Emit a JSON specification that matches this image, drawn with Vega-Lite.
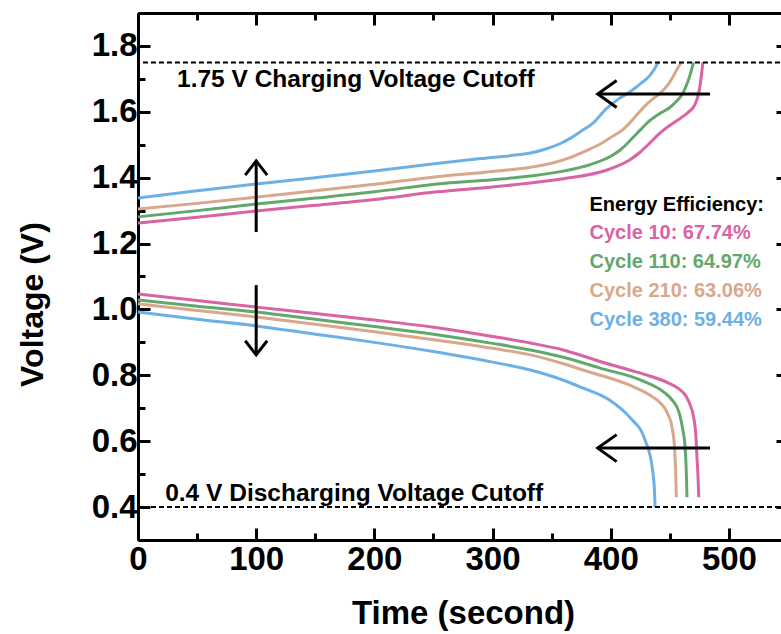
{
  "$schema": "https://vega.github.io/schema/vega-lite/v6.json",
  "autosize": {"type": "none"},
  "padding": {"left": 138, "top": 13, "right": 0, "bottom": 94},
  "width": 650,
  "height": 527,
  "background": "white",
  "config": {"view": {"stroke": null}, "font": "Liberation Sans"},
  "datasets": {
    "curves": [
      {"c":"Cycle 10","k":"charge","t":0,"v":1.262},{"c":"Cycle 10","k":"charge","t":50,"v":1.28},{"c":"Cycle 10","k":"charge","t":100,"v":1.299},{"c":"Cycle 10","k":"charge","t":150,"v":1.316},{"c":"Cycle 10","k":"charge","t":200,"v":1.334},{"c":"Cycle 10","k":"charge","t":253,"v":1.357},{"c":"Cycle 10","k":"charge","t":300,"v":1.372},{"c":"Cycle 10","k":"charge","t":332,"v":1.384},{"c":"Cycle 10","k":"charge","t":360,"v":1.397},{"c":"Cycle 10","k":"charge","t":380,"v":1.408},{"c":"Cycle 10","k":"charge","t":395,"v":1.421},{"c":"Cycle 10","k":"charge","t":405,"v":1.434},{"c":"Cycle 10","k":"charge","t":416,"v":1.454},{"c":"Cycle 10","k":"charge","t":425,"v":1.478},{"c":"Cycle 10","k":"charge","t":433,"v":1.505},{"c":"Cycle 10","k":"charge","t":440,"v":1.53},{"c":"Cycle 10","k":"charge","t":446,"v":1.548},{"c":"Cycle 10","k":"charge","t":453,"v":1.566},{"c":"Cycle 10","k":"charge","t":460,"v":1.583},{"c":"Cycle 10","k":"charge","t":466,"v":1.6},{"c":"Cycle 10","k":"charge","t":471,"v":1.62},{"c":"Cycle 10","k":"charge","t":474,"v":1.65},{"c":"Cycle 10","k":"charge","t":476,"v":1.69},{"c":"Cycle 10","k":"charge","t":478,"v":1.75},
      {"c":"Cycle 110","k":"charge","t":0,"v":1.281},{"c":"Cycle 110","k":"charge","t":50,"v":1.3},{"c":"Cycle 110","k":"charge","t":100,"v":1.32},{"c":"Cycle 110","k":"charge","t":150,"v":1.338},{"c":"Cycle 110","k":"charge","t":200,"v":1.357},{"c":"Cycle 110","k":"charge","t":253,"v":1.381},{"c":"Cycle 110","k":"charge","t":300,"v":1.394},{"c":"Cycle 110","k":"charge","t":332,"v":1.405},{"c":"Cycle 110","k":"charge","t":360,"v":1.42},{"c":"Cycle 110","k":"charge","t":382,"v":1.439},{"c":"Cycle 110","k":"charge","t":400,"v":1.465},{"c":"Cycle 110","k":"charge","t":408,"v":1.484},{"c":"Cycle 110","k":"charge","t":417,"v":1.515},{"c":"Cycle 110","k":"charge","t":425,"v":1.545},{"c":"Cycle 110","k":"charge","t":433,"v":1.573},{"c":"Cycle 110","k":"charge","t":442,"v":1.596},{"c":"Cycle 110","k":"charge","t":450,"v":1.613},{"c":"Cycle 110","k":"charge","t":455,"v":1.63},{"c":"Cycle 110","k":"charge","t":460,"v":1.65},{"c":"Cycle 110","k":"charge","t":464,"v":1.68},{"c":"Cycle 110","k":"charge","t":467,"v":1.71},{"c":"Cycle 110","k":"charge","t":470,"v":1.75},
      {"c":"Cycle 210","k":"charge","t":0,"v":1.305},{"c":"Cycle 210","k":"charge","t":50,"v":1.322},{"c":"Cycle 210","k":"charge","t":100,"v":1.341},{"c":"Cycle 210","k":"charge","t":150,"v":1.36},{"c":"Cycle 210","k":"charge","t":200,"v":1.38},{"c":"Cycle 210","k":"charge","t":253,"v":1.403},{"c":"Cycle 210","k":"charge","t":300,"v":1.419},{"c":"Cycle 210","k":"charge","t":332,"v":1.432},{"c":"Cycle 210","k":"charge","t":350,"v":1.444},{"c":"Cycle 210","k":"charge","t":365,"v":1.46},{"c":"Cycle 210","k":"charge","t":378,"v":1.48},{"c":"Cycle 210","k":"charge","t":390,"v":1.5},{"c":"Cycle 210","k":"charge","t":399,"v":1.52},{"c":"Cycle 210","k":"charge","t":410,"v":1.545},{"c":"Cycle 210","k":"charge","t":416,"v":1.566},{"c":"Cycle 210","k":"charge","t":422,"v":1.59},{"c":"Cycle 210","k":"charge","t":429,"v":1.618},{"c":"Cycle 210","k":"charge","t":436,"v":1.64},{"c":"Cycle 210","k":"charge","t":442,"v":1.657},{"c":"Cycle 210","k":"charge","t":448,"v":1.68},{"c":"Cycle 210","k":"charge","t":454,"v":1.715},{"c":"Cycle 210","k":"charge","t":457,"v":1.735},{"c":"Cycle 210","k":"charge","t":460,"v":1.75},
      {"c":"Cycle 380","k":"charge","t":0,"v":1.338},{"c":"Cycle 380","k":"charge","t":50,"v":1.36},{"c":"Cycle 380","k":"charge","t":100,"v":1.381},{"c":"Cycle 380","k":"charge","t":150,"v":1.4},{"c":"Cycle 380","k":"charge","t":200,"v":1.42},{"c":"Cycle 380","k":"charge","t":247,"v":1.441},{"c":"Cycle 380","k":"charge","t":290,"v":1.458},{"c":"Cycle 380","k":"charge","t":315,"v":1.467},{"c":"Cycle 380","k":"charge","t":332,"v":1.475},{"c":"Cycle 380","k":"charge","t":345,"v":1.487},{"c":"Cycle 380","k":"charge","t":357,"v":1.503},{"c":"Cycle 380","k":"charge","t":366,"v":1.52},{"c":"Cycle 380","k":"charge","t":374,"v":1.539},{"c":"Cycle 380","k":"charge","t":385,"v":1.566},{"c":"Cycle 380","k":"charge","t":397,"v":1.612},{"c":"Cycle 380","k":"charge","t":407,"v":1.64},{"c":"Cycle 380","k":"charge","t":416,"v":1.66},{"c":"Cycle 380","k":"charge","t":425,"v":1.685},{"c":"Cycle 380","k":"charge","t":433,"v":1.71},{"c":"Cycle 380","k":"charge","t":437,"v":1.73},{"c":"Cycle 380","k":"charge","t":440,"v":1.75},
      {"c":"Cycle 10","k":"discharge","t":0,"v":1.047},{"c":"Cycle 10","k":"discharge","t":50,"v":1.027},{"c":"Cycle 10","k":"discharge","t":100,"v":1.007},{"c":"Cycle 10","k":"discharge","t":150,"v":0.988},{"c":"Cycle 10","k":"discharge","t":200,"v":0.968},{"c":"Cycle 10","k":"discharge","t":250,"v":0.946},{"c":"Cycle 10","k":"discharge","t":300,"v":0.918},{"c":"Cycle 10","k":"discharge","t":332,"v":0.898},{"c":"Cycle 10","k":"discharge","t":360,"v":0.877},{"c":"Cycle 10","k":"discharge","t":391,"v":0.842},{"c":"Cycle 10","k":"discharge","t":415,"v":0.817},{"c":"Cycle 10","k":"discharge","t":433,"v":0.798},{"c":"Cycle 10","k":"discharge","t":448,"v":0.778},{"c":"Cycle 10","k":"discharge","t":458,"v":0.758},{"c":"Cycle 10","k":"discharge","t":464,"v":0.735},{"c":"Cycle 10","k":"discharge","t":467,"v":0.712},{"c":"Cycle 10","k":"discharge","t":470,"v":0.675},{"c":"Cycle 10","k":"discharge","t":472,"v":0.62},{"c":"Cycle 10","k":"discharge","t":473,"v":0.55},{"c":"Cycle 10","k":"discharge","t":474,"v":0.48},{"c":"Cycle 10","k":"discharge","t":474.5,"v":0.43},
      {"c":"Cycle 110","k":"discharge","t":0,"v":1.029},{"c":"Cycle 110","k":"discharge","t":50,"v":1.01},{"c":"Cycle 110","k":"discharge","t":100,"v":0.992},{"c":"Cycle 110","k":"discharge","t":150,"v":0.97},{"c":"Cycle 110","k":"discharge","t":200,"v":0.948},{"c":"Cycle 110","k":"discharge","t":250,"v":0.925},{"c":"Cycle 110","k":"discharge","t":300,"v":0.897},{"c":"Cycle 110","k":"discharge","t":332,"v":0.877},{"c":"Cycle 110","k":"discharge","t":360,"v":0.855},{"c":"Cycle 110","k":"discharge","t":391,"v":0.822},{"c":"Cycle 110","k":"discharge","t":425,"v":0.786},{"c":"Cycle 110","k":"discharge","t":446,"v":0.746},{"c":"Cycle 110","k":"discharge","t":452,"v":0.725},{"c":"Cycle 110","k":"discharge","t":458,"v":0.685},{"c":"Cycle 110","k":"discharge","t":461,"v":0.635},{"c":"Cycle 110","k":"discharge","t":463,"v":0.58},{"c":"Cycle 110","k":"discharge","t":464,"v":0.5},{"c":"Cycle 110","k":"discharge","t":464.5,"v":0.43},
      {"c":"Cycle 210","k":"discharge","t":0,"v":1.017},{"c":"Cycle 210","k":"discharge","t":50,"v":0.997},{"c":"Cycle 210","k":"discharge","t":100,"v":0.977},{"c":"Cycle 210","k":"discharge","t":150,"v":0.955},{"c":"Cycle 210","k":"discharge","t":200,"v":0.932},{"c":"Cycle 210","k":"discharge","t":250,"v":0.908},{"c":"Cycle 210","k":"discharge","t":300,"v":0.882},{"c":"Cycle 210","k":"discharge","t":332,"v":0.862},{"c":"Cycle 210","k":"discharge","t":360,"v":0.835},{"c":"Cycle 210","k":"discharge","t":382,"v":0.81},{"c":"Cycle 210","k":"discharge","t":416,"v":0.77},{"c":"Cycle 210","k":"discharge","t":433,"v":0.74},{"c":"Cycle 210","k":"discharge","t":442,"v":0.716},{"c":"Cycle 210","k":"discharge","t":448,"v":0.685},{"c":"Cycle 210","k":"discharge","t":452,"v":0.64},{"c":"Cycle 210","k":"discharge","t":454,"v":0.58},{"c":"Cycle 210","k":"discharge","t":455,"v":0.5},{"c":"Cycle 210","k":"discharge","t":455.5,"v":0.43},
      {"c":"Cycle 380","k":"discharge","t":0,"v":0.992},{"c":"Cycle 380","k":"discharge","t":50,"v":0.97},{"c":"Cycle 380","k":"discharge","t":100,"v":0.95},{"c":"Cycle 380","k":"discharge","t":150,"v":0.925},{"c":"Cycle 380","k":"discharge","t":200,"v":0.9},{"c":"Cycle 380","k":"discharge","t":250,"v":0.872},{"c":"Cycle 380","k":"discharge","t":300,"v":0.84},{"c":"Cycle 380","k":"discharge","t":332,"v":0.816},{"c":"Cycle 380","k":"discharge","t":360,"v":0.785},{"c":"Cycle 380","k":"discharge","t":374,"v":0.765},{"c":"Cycle 380","k":"discharge","t":399,"v":0.725},{"c":"Cycle 380","k":"discharge","t":416,"v":0.673},{"c":"Cycle 380","k":"discharge","t":429,"v":0.604},{"c":"Cycle 380","k":"discharge","t":435,"v":0.522},{"c":"Cycle 380","k":"discharge","t":437,"v":0.45},{"c":"Cycle 380","k":"discharge","t":437.5,"v":0.4}
    ],
    "arrows": [
      {"a":"up shaft","i":0,"t":100,"v":1.235},{"a":"up shaft","i":1,"t":100,"v":1.451},
      {"a":"up head","i":0,"t":90.7,"v":1.408},{"a":"up head","i":1,"t":100,"v":1.451},{"a":"up head","i":2,"t":109.3,"v":1.408},
      {"a":"down shaft","i":0,"t":100,"v":1.074},{"a":"down shaft","i":1,"t":100,"v":0.862},
      {"a":"down head","i":0,"t":90.7,"v":0.905},{"a":"down head","i":1,"t":100,"v":0.862},{"a":"down head","i":2,"t":109.3,"v":0.905},
      {"a":"top shaft","i":0,"t":389,"v":1.654},{"a":"top shaft","i":1,"t":484,"v":1.654},
      {"a":"top head","i":0,"t":405,"v":1.695},{"a":"top head","i":1,"t":389,"v":1.654},{"a":"top head","i":2,"t":405,"v":1.613},
      {"a":"bottom shaft","i":0,"t":389,"v":0.579},{"a":"bottom shaft","i":1,"t":484,"v":0.579},
      {"a":"bottom head","i":0,"t":405,"v":0.62},{"a":"bottom head","i":1,"t":389,"v":0.579},{"a":"bottom head","i":2,"t":405,"v":0.538}
    ]
  },
  "resolve": {"axis": {"x": "independent", "y": "independent"}},
  "layer": [
    {
      "data": {"name": "curves"},
      "mark": {"type": "line", "strokeWidth": 3, "interpolate": "monotone"},
      "encoding": {
        "x": {"field": "t", "type": "quantitative",
          "scale": {"domain": [0, 550], "nice": false, "zero": false},
          "axis": {"orient": "bottom", "title": "Time (second)",
            "values": [0,50,100,150,200,250,300,350,400,450,500,550],
            "tickSize": {"condition": {"test": "datum.value % 100 === 0", "value": -12}, "value": -7},
            "tickWidth": 3, "tickColor": "black", "domainWidth": 3, "domainColor": "black",
            "labelExpr": "datum.value % 100 === 0 ? datum.label : ''",
            "labelFont": "Liberation Sans", "labelFontWeight": "bold", "labelFontSize": 33, "labelColor": "black", "labelPadding": 15, "labelFlush": false, "labelOverlap": false,
            "titleFont": "Liberation Sans", "titleFontWeight": "bold", "titleFontSize": 33, "titleColor": "black", "titlePadding": 16, "grid": false}},
        "y": {"field": "v", "type": "quantitative",
          "scale": {"domain": [0.3, 1.9], "nice": false, "zero": false},
          "axis": {"orient": "left", "title": "Voltage (V)",
            "values": [0.3,0.4,0.5,0.6,0.7,0.8,0.9,1.0,1.1,1.2,1.3,1.4,1.5,1.6,1.7,1.8,1.9],
            "format": ".1f",
            "tickSize": {"condition": {"test": "round(datum.value*10) % 2 === 0", "value": -12}, "value": -7},
            "tickWidth": 3, "tickColor": "black", "domainWidth": 3, "domainColor": "black",
            "labelExpr": "round(datum.value*10) % 2 === 0 && datum.value < 1.85 && datum.value > 0.35 ? datum.label : ''",
            "labelFont": "Liberation Sans", "labelFontWeight": "bold", "labelFontSize": 33, "labelColor": "black", "labelPadding": 13, "labelOverlap": false, "labelFlush": false,
            "titleFont": "Liberation Sans", "titleFontWeight": "bold", "titleFontSize": 32, "titleColor": "black",
            "titleX": -96, "titleY": 291, "titleBaseline": "alphabetic", "grid": false}},
        "color": {"field": "c", "type": "nominal", "legend": null,
          "scale": {"domain": ["Cycle 10","Cycle 110","Cycle 210","Cycle 380","Note"], "range": ["#d963a3","#62a86c","#d9a78b","#6db0e6","#000000"]}},
        "detail": {"field": "k"}
      }
    },
    {
      "data": {"values": [{"v": 1.75}, {"v": 0.4}]},
      "mark": {"type": "rule", "strokeWidth": 2, "strokeDash": [5, 3], "color": "black"},
      "encoding": {"y": {"field": "v", "type": "quantitative", "axis": null}}
    },
    {
      "data": {"name": "arrows"},
      "mark": {"type": "line", "strokeWidth": 3, "color": "black"},
      "encoding": {
        "x": {"field": "t", "type": "quantitative",
          "axis": {"orient": "top", "title": null, "values": [0,50,100,150,200,250,300,350,400,450,500,550],
            "tickSize": {"condition": {"test": "datum.value % 100 === 0", "value": -12}, "value": -7},
            "tickWidth": 3, "tickColor": "black", "domainWidth": 3, "domainColor": "black", "labels": false, "grid": false}},
        "y": {"field": "v", "type": "quantitative",
          "axis": {"orient": "right", "title": null, "values": [0.3,0.4,0.5,0.6,0.7,0.8,0.9,1.0,1.1,1.2,1.3,1.4,1.5,1.6,1.7,1.8,1.9],
            "tickSize": {"condition": {"test": "round(datum.value*10) % 2 === 0", "value": -12}, "value": -7},
            "tickWidth": 3, "tickColor": "black", "domainWidth": 3, "domainColor": "black", "labels": false, "grid": false}},
        "detail": {"field": "a"},
        "order": {"field": "i"}
      }
    },
    {
      "data": {"values": [
        {"label": "1.75 V Charging Voltage Cutoff", "t": 33, "v": 1.675},
        {"label": "0.4 V Discharging Voltage Cutoff", "t": 23, "v": 0.418}
      ]},
      "mark": {"type": "text", "align": "left", "baseline": "alphabetic", "font": "Liberation Sans", "fontWeight": "bold", "fontSize": 24.5, "color": "black"},
      "encoding": {
        "x": {"field": "t", "type": "quantitative", "axis": null},
        "y": {"field": "v", "type": "quantitative", "axis": null},
        "text": {"field": "label"}
      }
    },
    {
      "data": {"values": [
        {"label": "Energy Efficiency:", "c": "Note", "t": 382, "v": 1.299},
        {"label": "Cycle 10: 67.74%", "c": "Cycle 10", "t": 382, "v": 1.214},
        {"label": "Cycle 110: 64.97%", "c": "Cycle 110", "t": 382, "v": 1.126},
        {"label": "Cycle 210: 63.06%", "c": "Cycle 210", "t": 382, "v": 1.038},
        {"label": "Cycle 380: 59.44%", "c": "Cycle 380", "t": 382, "v": 0.95}
      ]},
      "mark": {"type": "text", "align": "left", "baseline": "alphabetic", "font": "Liberation Sans", "fontWeight": "bold", "fontSize": 20},
      "encoding": {
        "x": {"field": "t", "type": "quantitative", "axis": null},
        "y": {"field": "v", "type": "quantitative", "axis": null},
        "text": {"field": "label"},
        "color": {"field": "c", "type": "nominal", "legend": null}
      }
    }
  ]
}
